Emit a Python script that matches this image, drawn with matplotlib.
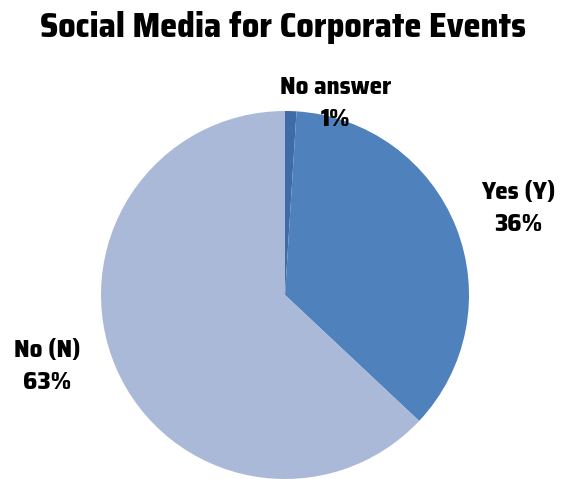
import matplotlib
matplotlib.use("Agg")
import matplotlib.pyplot as plt

labels = ["No answer", "Yes (Y)", "No (N)"]
shares = [1, 36, 63]
colors = ["#3F6CA6", "#4F81BD", "#AAB9D8"]

plt.rcParams['font.family'] = ['Saira SemiCondensed', 'Saira Condensed', 'DejaVu Sans']

fig = plt.figure(figsize=(5.63, 4.79), dpi=100)
ax = fig.add_axes([0, 0, 1, 1])

# pie of radius 1, one unit = 184 px
ax.pie(shares, colors=colors, startangle=90, counterclock=False,
       radius=1.0, wedgeprops={"linewidth": 0})
ax.set_xlim(-285 / 184, 278 / 184)
ax.set_ylim(-1.0, 295 / 184)
ax.set_aspect("equal")
ax.axis("off")

label_pos = [(0.277, 1.043), (1.266, 0.473), (-1.293, -0.386)]
for lab, val, (x, y) in zip(labels, shares, label_pos):
    ax.text(x, y, f"{lab}\n{val}%", ha="center", va="center",
            fontsize=18, fontweight=800, linespacing=1.4)

fig.text(0.503, 0.942, "Social Media for Corporate Events", ha="center",
         va="center", fontsize=24.5, fontweight=800)

fig.savefig("out.png", dpi=100)
